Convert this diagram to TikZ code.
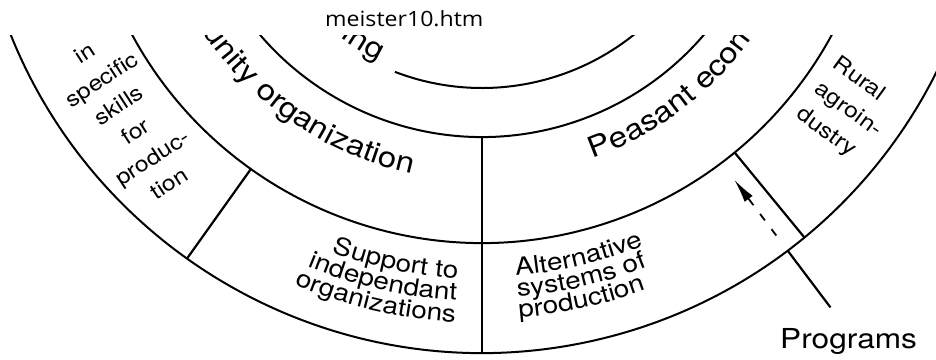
\documentclass[tikz,border=0pt]{standalone}
\usepackage{fontspec}
\usepackage{tikz}
\usetikzlibrary{arrows.meta, positioning, calc, decorations.text}

\newfontfamily\heros[FakeStretch=1.15]{TeX Gyre Heros}
\newfontfamily\opensans[FakeStretch=1.1]{Open Sans}
\newcommand{\ringlabel}{\heros\fontsize{28.7}{30}\selectfont}
\newcommand{\bandlabel}{\heros\fontsize{24.3}{26}\selectfont}
\newcommand{\sidelabel}{\heros\fontsize{21.5}{31}\selectfont}

\tikzset{
    ring/.style={line width=2pt},
    spoke/.style={line width=2.2pt},
    arctext/.style 2 args={decorate, decoration={text along path, text align=#1, text={#2}}},
}

\begin{document}
\begin{tikzpicture}[x=1pt, y=1pt, >={Latex[length=24pt, width=10pt]}]
    \useasboundingbox (0,0) rectangle (936,359);
    \node [anchor=base west, inner sep=0pt, font=\opensans\fontsize{21}{25}\selectfont] (page) at (325,332.5) {meister10.htm};
    \coordinate (centre) at (482,514);

    \begin{scope}
    \clip (0,0) rectangle (936,323);
    % rings
    \draw [ring] (centre) ++(249:243) arc (249:320:243);
    \draw [ring] (centre) ++(200:292) arc (200:340:292);
    \draw [ring] (centre) ++(200:398) arc (200:340:398);
    \draw [ring] (centre) ++(195:508) arc (195:345:508);
    % spokes
    \draw [spoke] ($(centre)+(270:292)$) -- ($(centre)+(270:508)$);
    \draw [spoke] ($(centre)+(234.5:398)$) -- ($(centre)+(234.5:508)$);
    \draw [spoke] ($(centre)+(309.4:398)$) -- ($(centre)+(309.4:508)$);
    % labels along the rings
    \path [arctext={right}{|\ringlabel|ing}] (centre) ++(200:239) arc (200:244.4:239);
    \path [arctext={right}{|\ringlabel|unity organization}] (centre) ++(190:336) arc (190:258:336);
    \path [arctext={left}{|\ringlabel|Peasant econ}] (centre) ++(289.5:332) arc (289.5:350:332);
    \path [arctext={right}{|\bandlabel|Support to}] (centre) ++(220:434) arc (220:266.8:434);
    \path [arctext={right}{|\bandlabel|independant}] (centre) ++(220:456) arc (220:266.8:456);
    \path [arctext={right}{|\bandlabel|organizations}] (centre) ++(220:478) arc (220:266.8:478);
    \path [arctext={left}{|\bandlabel|Alternative}] (centre) ++(274.5:432) arc (274.5:320:432);
    \path [arctext={left}{|\bandlabel|systems of}] (centre) ++(274.5:453) arc (274.5:320:453);
    \path [arctext={left}{|\bandlabel|production}] (centre) ++(274.5:474) arc (274.5:320:474);
    % side boxes
    \node [rotate=33, align=center, font=\sidelabel] (skills) at (127,240.5) {in\\specific\\skills\\for\\produc-\\tion};
    \node [rotate=-36, align=left, font=\sidelabel] (agro) at (848,249) {Rural\\agroin-\\dustry};
    \end{scope}

    \node [anchor=base west, inner sep=0pt, font=\heros\fontsize{27.5}{30}\selectfont] (programs) at (780,11) {Programs};
    \coordinate (tail) at ($(centre)+(307:579)$);
    \coordinate (rim) at ($(centre)+(307:508)$);
    \coordinate (tip) at ($(centre)+(307:419)$);
    \draw [spoke] (tail) -- (rim);
    \draw [->, line width=1.8pt, dash pattern=on 8pt off 11pt, dash phase=8pt, shorten <=8pt] (rim) -- (tip);
\end{tikzpicture}
\end{document}
